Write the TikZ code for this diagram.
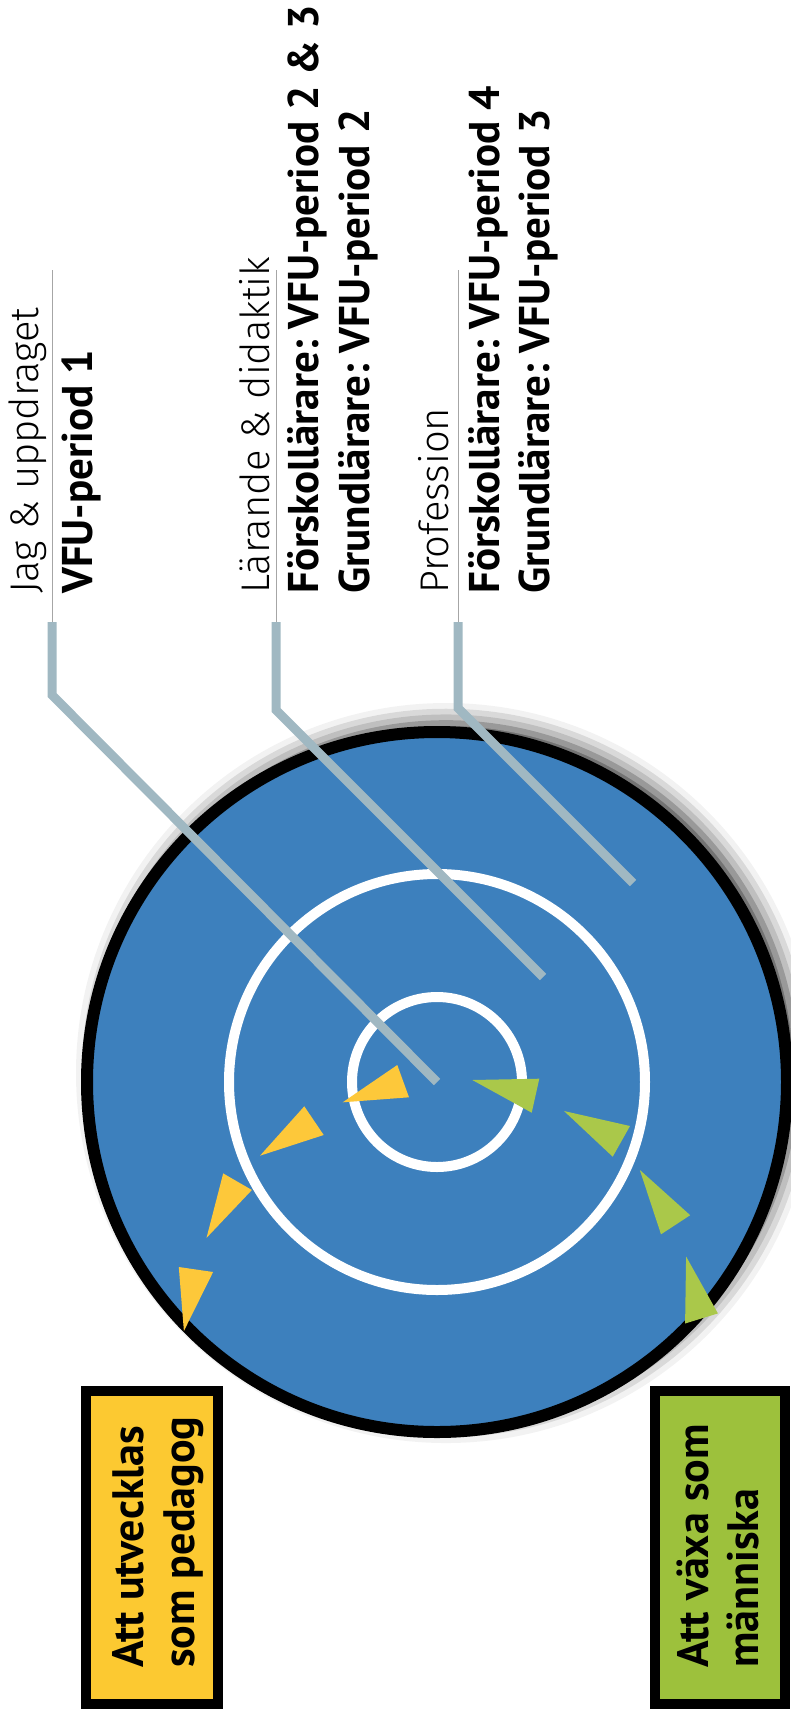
\documentclass[tikz,border=0pt]{standalone}
\usepackage{fontspec}
\setmainfont{PT Sans}
\newfontfamily\lightfont{Fira Sans Light}
\usetikzlibrary{shadows.blur}
\definecolor{discblue}{RGB}{61,128,189}
\definecolor{leadgray}{RGB}{160,184,194}
\definecolor{pedyellow}{RGB}{253,200,58}
\definecolor{humgreen}{RGB}{170,200,74}
\definecolor{boxyellow}{RGB}{252,201,49}
\definecolor{boxgreen}{RGB}{157,193,60}
\frenchspacing
\begin{document}
\begin{tikzpicture}[x=1pt, y=-1pt,
    lab/.style={rotate=90, anchor=base west, inner sep=0pt, font=\lightfont\fontsize{40}{46}\selectfont},
    labbold/.style={lab, font=\fontsize{43}{50}\selectfont\bfseries},
    goaltext/.style={lab, font=\fontsize{44}{50}\selectfont\bfseries},
    leader/.style={draw=leadgray, line width=9pt},
    hairline/.style={draw=black!35, line width=1pt},
    ring/.style={draw=white, line width=10pt},
    goal/.style={draw=black, line width=10pt}]
    \useasboundingbox (0,0) rectangle (790,1713);

    % skivan
    \coordinate (mid) at (437,1082);
    \fill[discblue, draw=black, line width=12pt,
        blur shadow={shadow xshift=9pt, shadow yshift=9pt, shadow blur radius=20pt, shadow opacity=80}]
        (mid) circle[radius=350];
    \draw[ring] (mid) circle[radius=208];
    \draw[ring] (mid) circle[radius=85];

    % rubriker
    \node[lab] (jag) at (38,594) {Jag \& uppdraget};
    \node[labbold] (jagvfu) at (92,594) {VFU-period 1};

    \node[lab] (larande) at (269,594) {Lärande \& didaktik};
    \node[labbold] (larforsk) at (318,594) {Förskollärare: VFU-period 2 \& 3};
    \node[labbold] (largrund) at (369,594) {Grundlärare: VFU-period 2};

    \node[lab] (prof) at (448,594) {Profession};
    \node[labbold] (profforsk) at (499,594) {Förskollärare: VFU-period 4};
    \node[labbold] (profgrund) at (549,594) {Grundlärare: VFU-period 3};

    % linjer in i skivan
    \coordinate (jag-a) at (52,270);
    \coordinate (jag-b) at (52,622);
    \coordinate (jag-c) at (52,695);
    \coordinate (lar-a) at (276,270);
    \coordinate (lar-b) at (276,622);
    \coordinate (lar-c) at (276,710);
    \coordinate (lar-d) at (543,977);
    \coordinate (prof-a) at (458,270);
    \coordinate (prof-b) at (458,622);
    \coordinate (prof-c) at (458,708);
    \coordinate (prof-d) at (633,883);

    \draw[hairline] (jag-a) -- (jag-b);
    \draw[hairline] (lar-a) -- (lar-b);
    \draw[hairline] (prof-a) -- (prof-b);
    \draw[leader] (jag-b) -- (jag-c) -- (mid);
    \draw[leader] (lar-b) -- (lar-c) -- (lar-d);
    \draw[leader] (prof-b) -- (prof-c) -- (prof-d);

    % pilar
    \fill[pedyellow] (342.7,1102.3) -- (397.3,1065) -- (409,1097.3) -- cycle;
    \fill[pedyellow] (260,1155.7) -- (304.3,1106.3) -- (323.7,1135) -- cycle;
    \fill[pedyellow] (206.5,1237.9) -- (223.2,1173.4) -- (251.9,1190) -- cycle;
    \fill[pedyellow] (183.9,1331) -- (178.8,1267) -- (213.1,1272) -- cycle;
    \fill[humgreen] (472.3,1080) -- (539.3,1078.7) -- (531.7,1112.7) -- cycle;
    \fill[humgreen] (564,1111) -- (630,1126) -- (612.7,1156.7) -- cycle;
    \fill[humgreen] (639.8,1169.9) -- (690.2,1215.2) -- (661,1234.3) -- cycle;
    \fill[humgreen] (686.1,1256.5) -- (717.9,1313.4) -- (685.1,1323.5) -- cycle;

    % rutor
    \draw[goal, fill=boxyellow] (85.5,1390.5) rectangle (217.7,1704);
    \draw[goal, fill=boxgreen] (655,1390.5) rectangle (785,1704);
    \node[goaltext] (ped1) at (143.6,1668) {Att utvecklas};
    \node[goaltext] (ped2) at (194,1668) {som pedagog};
    \node[goaltext] (hum1) at (708,1668) {Att växa som};
    \node[goaltext] (hum2) at (758,1668) {människa};
\end{tikzpicture}
\end{document}
